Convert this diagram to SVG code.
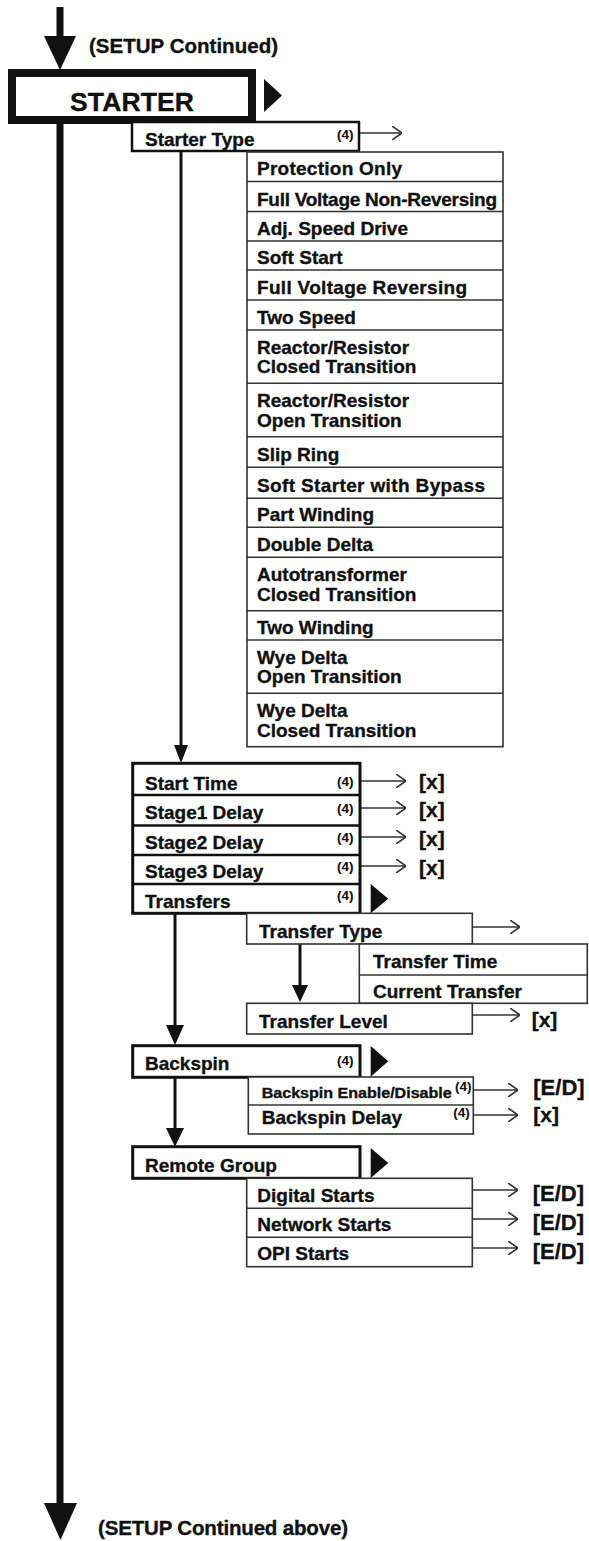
<svg xmlns="http://www.w3.org/2000/svg" width="589" height="1541" viewBox="0 0 589 1541">
<style>
text{font-family:"Liberation Sans",Arial,sans-serif;font-weight:bold;fill:#111;stroke:#111;stroke-width:0.35}
.t{font-size:19px}
.h{font-size:20.5px}
.s{font-size:13.5px;stroke-width:0.1}
.v{font-size:21px}
.ed{font-size:22px}
.thin{fill:#fff;stroke:#333;stroke-width:1.6}
.thick{fill:#fff;stroke:#111;stroke-width:3}
.sep{stroke:#111;stroke-width:2.5}
.sepT{stroke:#333;stroke-width:1.6}
.ln{stroke:#111;stroke-width:3;fill:none}
.ar{stroke:#333;stroke-width:1.5;fill:none}
.tri{fill:#111}
</style>
<defs>
<marker id="chev" viewBox="0 0 10 14" refX="10" refY="7" markerWidth="10" markerHeight="14" markerUnits="userSpaceOnUse" orient="auto">
<path d="M0,0 L10,7 L0,14" fill="none" stroke="#333" stroke-width="1.6"/>
</marker>
</defs>
<rect width="589" height="1541" fill="#fff"/>

<g id="connectors">
<line x1="60" y1="7" x2="60" y2="40" stroke="#111" stroke-width="7"/>
<polygon class="tri" points="44,36 76,36 60,70"/>
<line x1="60" y1="124" x2="60" y2="1506" stroke="#111" stroke-width="7"/>
<polygon class="tri" points="44,1503 77,1503 60.5,1540"/>
<line class="ln" x1="181" y1="151" x2="181" y2="748"/>
<polygon class="tri" points="174,745 188,745 181,763"/>
<line class="ln" x1="175" y1="913" x2="175" y2="1028"/>
<polygon class="tri" points="166,1025 184,1025 175,1045"/>
<line class="ln" x1="175" y1="1077" x2="175" y2="1131"/>
<polygon class="tri" points="166,1128 184,1128 175,1146.7"/>
<line class="ln" x1="300" y1="944" x2="300" y2="988"/>
<polygon class="tri" points="292,985 308,985 300,1002"/>
<line class="ar" x1="359" y1="133" x2="402" y2="133" marker-end="url(#chev)"/>
<line class="ar" x1="360" y1="781" x2="406" y2="781" marker-end="url(#chev)"/>
<line class="ar" x1="360" y1="808" x2="406" y2="808" marker-end="url(#chev)"/>
<line class="ar" x1="360" y1="837" x2="406" y2="837" marker-end="url(#chev)"/>
<line class="ar" x1="360" y1="866" x2="406" y2="866" marker-end="url(#chev)"/>
<line class="ar" x1="472" y1="927" x2="520" y2="927" marker-end="url(#chev)"/>
<line class="ar" x1="472" y1="1015" x2="520" y2="1015" marker-end="url(#chev)"/>
<line class="ar" x1="473" y1="1090" x2="518" y2="1090" marker-end="url(#chev)"/>
<line class="ar" x1="473" y1="1115" x2="518" y2="1115" marker-end="url(#chev)"/>
<line class="ar" x1="472" y1="1190" x2="518" y2="1190" marker-end="url(#chev)"/>
<line class="ar" x1="472" y1="1219" x2="518" y2="1219" marker-end="url(#chev)"/>
<line class="ar" x1="472" y1="1248" x2="518" y2="1248" marker-end="url(#chev)"/>
</g>

<g id="setup-top"><text class="h" x="89" y="53" textLength="189">(SETUP Continued)</text></g>

<g id="starter">
<rect x="12" y="73" width="240" height="47" fill="#fff" stroke="#111" stroke-width="8"/>
<text x="70" y="111" font-size="26.5" textLength="124">STARTER</text>
<polygon class="tri" points="264,79 282,95.5 264,112"/>
</g>

<g id="starter-type">
<rect x="132" y="122" width="227" height="29" fill="#fff" stroke="#111" stroke-width="2.5"/>
<text class="t" x="145" y="146">Starter Type</text>
<text class="s" x="337" y="139">(4)</text>
</g>

<g id="starter-type-list">
<rect class="thin" x="247" y="152" width="256" height="594.7"/>
<line class="sepT" x1="247" y1="181.5" x2="503" y2="181.5"/>
<line class="sepT" x1="247" y1="211.5" x2="503" y2="211.5"/>
<line class="sepT" x1="247" y1="241" x2="503" y2="241"/>
<line class="sepT" x1="247" y1="270" x2="503" y2="270"/>
<line class="sepT" x1="247" y1="300" x2="503" y2="300"/>
<line class="sepT" x1="247" y1="330" x2="503" y2="330"/>
<line class="sepT" x1="247" y1="383.3" x2="503" y2="383.3"/>
<line class="sepT" x1="247" y1="436.7" x2="503" y2="436.7"/>
<line class="sepT" x1="247" y1="467.3" x2="503" y2="467.3"/>
<line class="sepT" x1="247" y1="498.3" x2="503" y2="498.3"/>
<line class="sepT" x1="247" y1="527.3" x2="503" y2="527.3"/>
<line class="sepT" x1="247" y1="557.3" x2="503" y2="557.3"/>
<line class="sepT" x1="247" y1="610.7" x2="503" y2="610.7"/>
<line class="sepT" x1="247" y1="640" x2="503" y2="640"/>
<line class="sepT" x1="247" y1="693.3" x2="503" y2="693.3"/>
<text class="t" x="257" y="175" textLength="145">Protection Only</text>
<text class="t" x="257" y="205.5" textLength="240">Full Voltage Non-Reversing</text>
<text class="t" x="257" y="235">Adj. Speed Drive</text>
<text class="t" x="257" y="264">Soft Start</text>
<text class="t" x="257" y="294" textLength="210">Full Voltage Reversing</text>
<text class="t" x="257" y="324">Two Speed</text>
<text class="t" x="257" y="354">Reactor/Resistor</text>
<text class="t" x="257" y="373.3">Closed Transition</text>
<text class="t" x="257" y="407.3">Reactor/Resistor</text>
<text class="t" x="257" y="426.7">Open Transition</text>
<text class="t" x="257" y="461">Slip Ring</text>
<text class="t" x="257" y="492" textLength="228">Soft Starter with Bypass</text>
<text class="t" x="257" y="521.3">Part Winding</text>
<text class="t" x="257" y="551.3">Double Delta</text>
<text class="t" x="257" y="581.3">Autotransformer</text>
<text class="t" x="257" y="600.7">Closed Transition</text>
<text class="t" x="257" y="634">Two Winding</text>
<text class="t" x="257" y="664">Wye Delta</text>
<text class="t" x="257" y="683.3">Open Transition</text>
<text class="t" x="257" y="717.3">Wye Delta</text>
<text class="t" x="257" y="736.7">Closed Transition</text>
</g>

<g id="timing-stack">
<rect class="thick" x="132.7" y="763.3" width="227.3" height="150"/>
<line class="sep" x1="132.7" y1="795" x2="360" y2="795"/>
<line class="sep" x1="132.7" y1="825.5" x2="360" y2="825.5"/>
<line class="sep" x1="132.7" y1="855" x2="360" y2="855"/>
<line class="sep" x1="132.7" y1="884" x2="360" y2="884"/>
<text class="t" x="145" y="790">Start Time</text>
<text class="t" x="145" y="819">Stage1 Delay</text>
<text class="t" x="145" y="848.5">Stage2 Delay</text>
<text class="t" x="145" y="878">Stage3 Delay</text>
<text class="t" x="145" y="908">Transfers</text>
<text class="s" x="337" y="786">(4)</text>
<text class="s" x="337" y="813">(4)</text>
<text class="s" x="337" y="842">(4)</text>
<text class="s" x="337" y="871">(4)</text>
<text class="s" x="337" y="900">(4)</text>
<text class="v" x="419" y="789">[x]</text>
<text class="v" x="419" y="817">[x]</text>
<text class="v" x="419" y="845.5">[x]</text>
<text class="v" x="419" y="875">[x]</text>
<polygon class="tri" points="370.7,884 388.3,898.7 370.7,913.3"/>
</g>

<g id="transfer-type">
<rect class="thin" x="246.7" y="913.3" width="225.6" height="30.7"/>
<text class="t" x="259" y="938">Transfer Type</text>
</g>

<g id="transfer-type-list">
<rect class="thin" x="359.3" y="944" width="228" height="59.3"/>
<line class="sepT" x1="359.3" y1="975" x2="587.3" y2="975"/>
<text class="t" x="373" y="968.3">Transfer Time</text>
<text class="t" x="373" y="998.3">Current Transfer</text>
</g>

<g id="transfer-level">
<rect class="thin" x="246.7" y="1003.3" width="225.6" height="30.7"/>
<text class="t" x="259" y="1028">Transfer Level</text>
<text class="v" x="531.7" y="1027">[x]</text>
</g>

<g id="backspin">
<rect class="thick" x="132.7" y="1045.7" width="227.3" height="31.6"/>
<text class="t" x="145" y="1070">Backspin</text>
<text class="s" x="337" y="1065">(4)</text>
<polygon class="tri" points="370.7,1046 388.3,1061.3 370.7,1076.7"/>
</g>

<g id="backspin-list">
<rect class="thin" x="248.3" y="1077" width="225" height="57"/>
<line class="sepT" x1="248.3" y1="1105" x2="473.3" y2="1105"/>
<text x="261.7" y="1098" font-size="14" textLength="190" lengthAdjust="spacingAndGlyphs">Backspin Enable/Disable</text>
<text class="s" x="455" y="1091">(4)</text>
<text class="ed" x="533.3" y="1095">[E/D]</text>
<text class="t" x="261.7" y="1124">Backspin Delay</text>
<text class="s" x="453.3" y="1117">(4)</text>
<text class="v" x="533.3" y="1122">[x]</text>
</g>

<g id="remote-group">
<rect class="thick" x="132.7" y="1146.7" width="227.3" height="31.6"/>
<text class="t" x="145" y="1172">Remote Group</text>
<polygon class="tri" points="370.7,1148 388.3,1163 370.7,1178"/>
</g>

<g id="remote-list">
<rect class="thin" x="246.7" y="1178.3" width="225.6" height="88.4"/>
<line class="sepT" x1="246.7" y1="1208.3" x2="472.3" y2="1208.3"/>
<line class="sepT" x1="246.7" y1="1237.3" x2="472.3" y2="1237.3"/>
<text class="t" x="257.3" y="1201.7">Digital Starts</text>
<text class="t" x="257.3" y="1231">Network Starts</text>
<text class="t" x="257.3" y="1260">OPI Starts</text>
<text class="ed" x="532.7" y="1201">[E/D]</text>
<text class="ed" x="532.7" y="1230">[E/D]</text>
<text class="ed" x="532.7" y="1259">[E/D]</text>
</g>

<g id="setup-bottom"><text class="h" x="98" y="1535" textLength="250">(SETUP Continued above)</text></g>
</svg>
